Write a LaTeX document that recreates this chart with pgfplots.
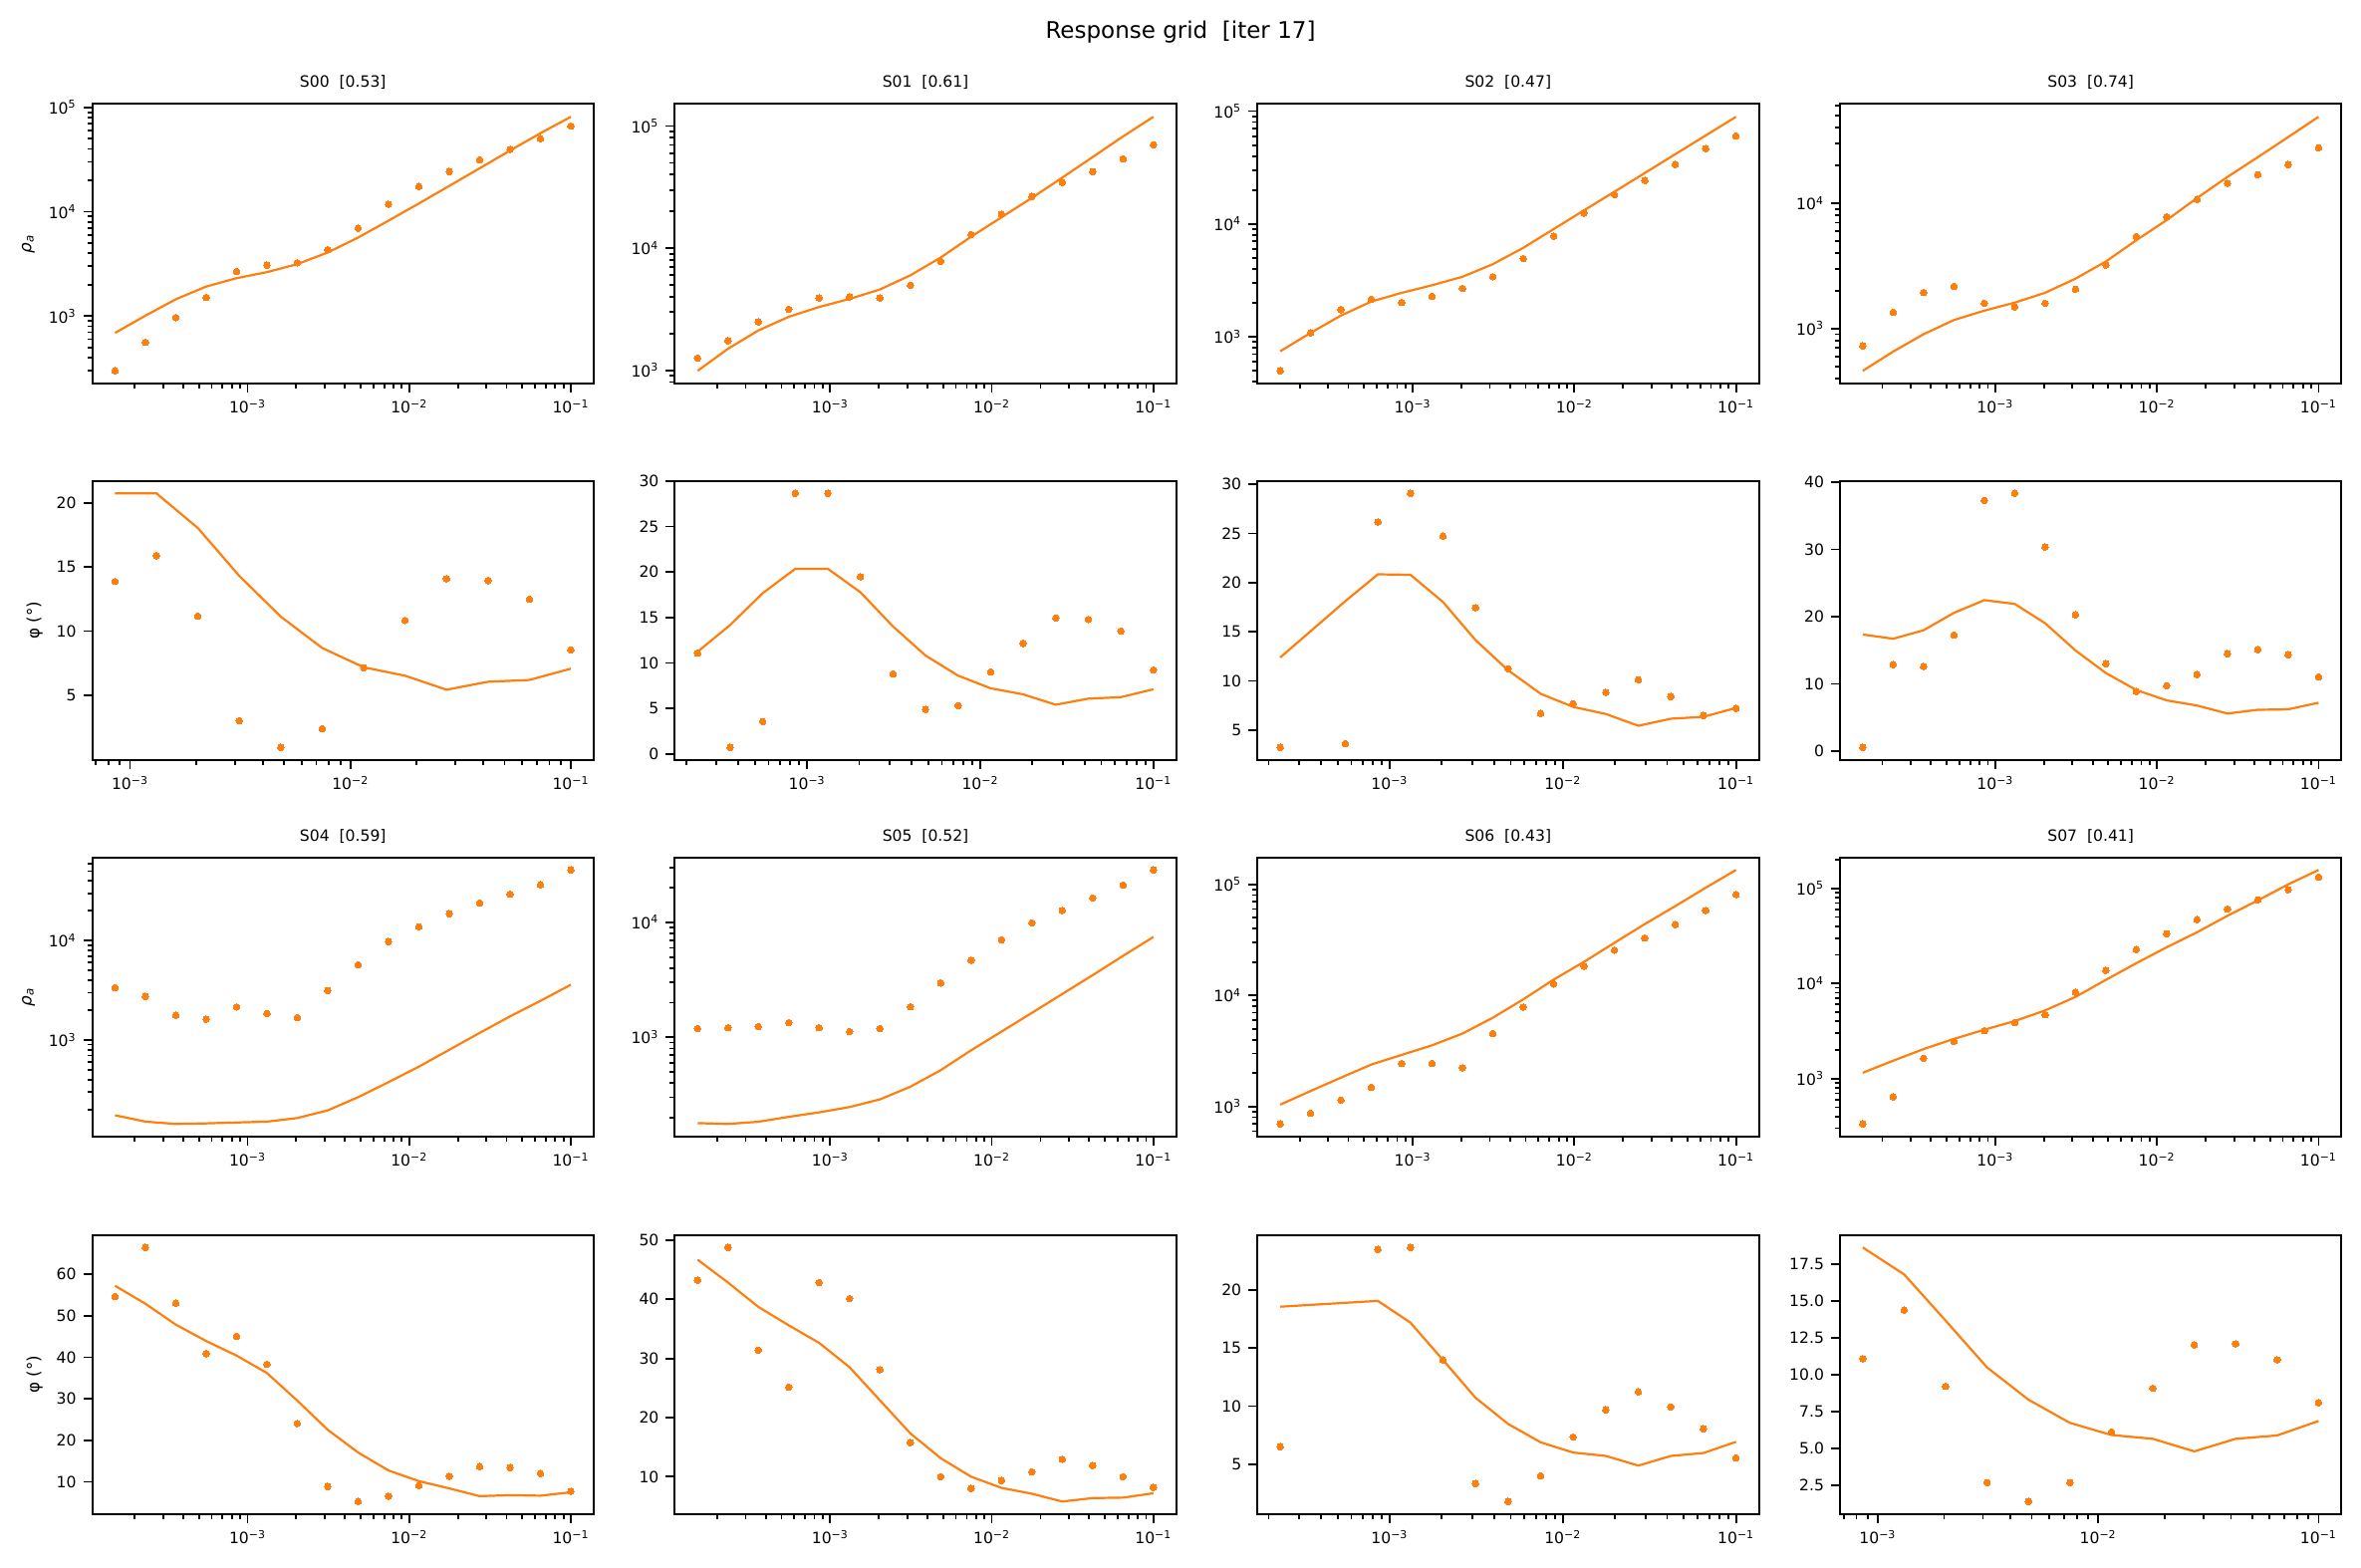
\documentclass[border=0pt]{standalone}
\usepackage{fontspec}
\setmainfont{DejaVu Sans}[ItalicFont={DejaVu Sans Oblique}]
\usepackage{pgfplots}
\pgfplotsset{compat=1.18}
\usepackage{pgfplotstable}
\definecolor{cone}{HTML}{FF7F0E}

% ---------- data: f = frequency, d = observed, m = model ----------
\pgfplotstableread{
f d m
1.514e-4 299 690
2.333e-4 561 1010
3.597e-4 970 1450
5.546e-4 1510 1920
8.551e-4 2670 2310
1.318e-3 3080 2640
2.032e-3 3250 3150
3.133e-3 4330 4070
4.831e-3 6970 5660
7.447e-3 11800 8220
1.148e-2 17500 12000
1.770e-2 24300 17700
2.729e-2 31500 26100
4.207e-2 39500 38600
6.486e-2 50100 56600
0.1 66300 81300
}\rhoA
\pgfplotstableread{
f d m
8.551e-4 13.87 20.73
1.318e-3 15.88 20.73
2.032e-3 11.17 18.03
3.133e-3 3.03 14.3
4.831e-3 0.95 11.13
7.447e-3 2.41 8.69
1.148e-2 7.15 7.19
1.770e-2 10.84 6.53
2.729e-2 14.09 5.44
4.207e-2 13.94 6.06
6.486e-2 12.48 6.2
0.1 8.54 7.08
}\phiA
\pgfplotstableread{
f d m
1.514e-4 1259 990
2.333e-4 1746 1500
3.597e-4 2490 2120
5.546e-4 3160 2740
8.551e-4 3910 3300
1.318e-3 3980 3840
2.032e-3 3910 4590
3.133e-3 4970 5990
4.831e-3 7800 8380
7.447e-3 12900 12400
1.148e-2 18900 17900
1.770e-2 26500 25800
2.729e-2 34500 37800
4.207e-2 42300 55700
6.486e-2 53800 82200
0.1 70200 119000
}\rhoB
\pgfplotstableread{
f d m
2.333e-4 11.08 11.24
3.597e-4 0.72 14.18
5.546e-4 3.56 17.68
8.551e-4 28.65 20.36
1.318e-3 28.65 20.36
2.032e-3 19.48 17.78
3.133e-3 8.81 14.02
4.831e-3 4.9 10.82
7.447e-3 5.31 8.61
1.148e-2 9.02 7.22
1.770e-2 12.16 6.55
2.729e-2 14.95 5.41
4.207e-2 14.79 6.08
6.486e-2 13.51 6.24
0.1 9.23 7.11
}\phiB
\pgfplotstableread{
f d m
1.514e-4 498 743
2.333e-4 1080 1080
3.597e-4 1740 1540
5.546e-4 2150 2050
8.551e-4 2010 2450
1.318e-3 2280 2860
2.032e-3 2680 3400
3.133e-3 3400 4400
4.831e-3 4930 6140
7.447e-3 7800 9000
1.148e-2 12500 13200
1.770e-2 18200 19300
2.729e-2 24300 28300
4.207e-2 33700 41500
6.486e-2 46600 60800
0.1 60300 89100
}\rhoC
\pgfplotstableread{
f d m
2.333e-4 3.23 12.38
5.546e-4 3.61 18.12
8.551e-4 26.17 20.85
1.318e-3 29.09 20.8
2.032e-3 24.73 18.03
3.133e-3 17.45 14.15
4.831e-3 11.23 11.08
7.447e-3 6.68 8.69
1.148e-2 7.68 7.35
1.770e-2 8.83 6.63
2.729e-2 10.12 5.43
4.207e-2 8.40 6.15
6.486e-2 6.48 6.34
0.1 7.2 7.25
}\phiC
\pgfplotstableread{
f d m
1.514e-4 727 460
2.333e-4 1350 655
3.597e-4 1940 901
5.546e-4 2170 1170
8.551e-4 1590 1390
1.318e-3 1490 1610
2.032e-3 1590 1930
3.133e-3 2060 2500
4.831e-3 3210 3430
7.447e-3 5420 5060
1.148e-2 7780 7330
1.770e-2 10700 11000
2.729e-2 14400 16200
4.207e-2 16900 23300
6.486e-2 20300 33700
0.1 27700 48900
}\rhoD
\pgfplotstableread{
f d m
1.514e-4 0.56 17.34
2.333e-4 12.87 16.71
3.597e-4 12.59 17.97
5.546e-4 17.27 20.56
8.551e-4 37.27 22.45
1.318e-3 38.32 21.89
2.032e-3 30.35 19.02
3.133e-3 20.28 14.97
4.831e-3 13.0 11.61
7.447e-3 8.88 9.09
1.148e-2 9.72 7.55
1.770e-2 11.40 6.78
2.729e-2 14.48 5.59
4.207e-2 15.1 6.15
6.486e-2 14.34 6.22
0.1 11.05 7.2
}\phiD
\pgfplotstableread{
f d m
1.514e-4 3370 175
2.333e-4 2750 151
3.597e-4 1770 143
5.546e-4 1620 145
8.551e-4 2150 148
1.318e-3 1850 151
2.032e-3 1680 164
3.133e-3 3150 196
4.831e-3 5700 266
7.447e-3 9780 377
1.148e-2 13800 540
1.770e-2 18700 798
2.729e-2 24000 1180
4.207e-2 29400 1730
6.486e-2 36400 2480
0.1 51500 3600
}\rhoE
\pgfplotstableread{
f d m
1.514e-4 54.63 57.2
2.333e-4 66.42 52.88
3.597e-4 53.0 47.86
5.546e-4 40.86 43.9
8.551e-4 45.06 40.4
1.318e-3 38.30 36.2
2.032e-3 24.06 29.55
3.133e-3 8.89 22.54
4.831e-3 5.27 17.06
7.447e-3 6.56 12.74
1.148e-2 9.12 10.18
1.770e-2 11.34 8.42
2.729e-2 13.67 6.56
4.207e-2 13.44 6.79
6.486e-2 12.04 6.67
0.1 7.72 7.49
}\phiE
\pgfplotstableread{
f d m
1.514e-4 1190 179
2.333e-4 1210 176
3.597e-4 1240 184
5.546e-4 1340 203
8.551e-4 1210 222
1.318e-3 1120 247
2.032e-3 1190 288
3.133e-3 1840 371
4.831e-3 2970 517
7.447e-3 4690 770
1.148e-2 7050 1120
1.770e-2 9900 1630
2.729e-2 12700 2380
4.207e-2 16300 3470
6.486e-2 21100 5110
0.1 28600 7470
}\rhoF
\pgfplotstableread{
f d m
1.514e-4 43.25 46.71
2.333e-4 48.77 42.84
3.597e-4 31.4 38.72
5.546e-4 25.14 35.6
8.551e-4 42.84 32.63
1.318e-3 40.12 28.52
2.032e-3 28.11 22.92
3.133e-3 15.76 17.33
4.831e-3 10.0 13.13
7.447e-3 8.02 10.0
1.148e-2 9.34 8.11
1.770e-2 10.82 7.12
2.729e-2 12.96 5.80
4.207e-2 11.89 6.38
6.486e-2 10.0 6.46
0.1 8.19 7.2
}\phiF
\pgfplotstableread{
f d m
1.514e-4 697 1040
2.333e-4 869 1380
3.597e-4 1140 1820
5.546e-4 1490 2390
8.551e-4 2440 2920
1.318e-3 2440 3560
2.032e-3 2230 4540
3.133e-3 4540 6310
4.831e-3 7870 9230
7.447e-3 12700 13900
1.148e-2 18400 20100
1.770e-2 25600 29800
2.729e-2 32900 44000
4.207e-2 43500 63700
6.486e-2 58200 93300
0.1 81100 135000
}\rhoG
\pgfplotstableread{
f d m
2.333e-4 6.5 18.54
8.551e-4 23.46 19.04
1.318e-3 23.63 17.17
2.032e-3 13.96 13.96
3.133e-3 3.33 10.71
4.831e-3 1.79 8.46
7.447e-3 4.0 6.88
1.148e-2 7.33 6.0
1.770e-2 9.67 5.71
2.729e-2 11.21 4.88
4.207e-2 9.92 5.71
6.486e-2 8.04 5.96
0.1 5.54 6.92
}\phiG
\pgfplotstableread{
f d m
1.514e-4 333 1150
2.333e-4 641 1540
3.597e-4 1630 2040
5.546e-4 2460 2610
8.551e-4 3180 3260
1.318e-3 3880 4020
2.032e-3 4680 5200
3.133e-3 8110 7210
4.831e-3 13700 10900
7.447e-3 22700 16300
1.148e-2 33300 24000
1.770e-2 46800 34500
2.729e-2 60500 51400
4.207e-2 75600 74600
6.486e-2 96600 110000
0.1 131000 156000
}\rhoH
\pgfplotstableread{
f d m
8.551e-4 11.1 18.64
1.318e-3 14.4 16.81
2.032e-3 9.23 13.68
3.133e-3 2.70 10.51
4.831e-3 1.42 8.32
7.447e-3 2.70 6.75
1.148e-2 6.13 5.93
1.770e-2 9.1 5.67
2.729e-2 12.04 4.82
4.207e-2 12.11 5.67
6.486e-2 11.03 5.9
0.1 8.12 6.88
}\phiH

\newcommand{\tickfont}{\fontsize{7.8}{9.2}\selectfont}
\newcommand{\labfont}{\fontsize{7.8}{9.4}\selectfont}
\newcommand{\ylabfont}{\fontsize{8.4}{10}\selectfont}

\pgfplotsset{
  mtpanel/.style={
    scale only axis, width=251.65pt, height=140.25pt,
    anchor=north west,
    enlargelimits=0.05,
    axis line style={line width=1pt},
    every tick/.style={black, line width=0.9pt},
    major tick length=4.5pt, minor tick length=2.5pt,
    tick align=outside, tick pos=left,
    xtick={1e-3,1e-2,1e-1},
    xticklabels={10\textsuperscript{−3},10\textsuperscript{−2},10\textsuperscript{−1}},
    minor xtick={2e-4,3e-4,4e-4,5e-4,6e-4,7e-4,8e-4,9e-4,2e-3,3e-3,4e-3,5e-3,6e-3,7e-3,8e-3,9e-3,2e-2,3e-2,4e-2,5e-2,6e-2,7e-2,8e-2,9e-2},
    tick label style={font=\tickfont},
    yticklabel style={/pgf/number format/assume math mode=true},
    every axis title/.style={font=\labfont, at={(0.5,1)}, anchor=base, yshift=8.25pt},
    ylabel style={font=\ylabfont},
  },
  mtrho/.style={
    minor ytick={200,300,400,500,600,700,800,900,2000,3000,4000,5000,6000,7000,8000,9000,20000,30000,40000,50000,60000,70000,80000,90000,200000}},
  mtrhothree/.style={mtrho, ytick={1e3,1e4,1e5}, yticklabels={10\textsuperscript{3},10\textsuperscript{4},10\textsuperscript{5}}},
  mtrhotwo/.style={mtrho, ytick={1e3,1e4}, yticklabels={10\textsuperscript{3},10\textsuperscript{4}}},
  mtmodel/.style={color=cone, line width=1.1pt, mark=none},
  mtobs/.style={only marks, mark=*, mark size=1.65pt, color=cone, mark options={draw=cone, fill=cone, line width=0pt}},
}

\newcommand{\rhopanel}[3]{%
  \begin{loglogaxis}[mtpanel, at={#1}, #3]
    \addplot[mtmodel] table[x=f,y=m] {#2};
    \addplot[mtobs] table[x=f,y=d] {#2};
  \end{loglogaxis}}
\newcommand{\phipanel}[3]{%
  \begin{semilogxaxis}[mtpanel, at={#1}, #3]
    \addplot[mtmodel] table[x=f,y=m] {#2};
    \addplot[mtobs] table[x=f,y=d] {#2};
  \end{semilogxaxis}}

\begin{document}
\begin{tikzpicture}
\path[use as bounding box] (0,0) rectangle (1185pt,-786.5pt);
\node[anchor=base, font=\fontsize{11.5}{14}\selectfont] at (592.5pt,-19.5pt) {Response grid\ \ [iter 17]};

\rhopanel{(46.3pt,-52.25pt)}{\rhoA}{mtrhothree, title={S00\ \ [0.53]}, ylabel={\textit{ρ}\textsubscript{\textit{a}}}}
\rhopanel{(338.7pt,-52.25pt)}{\rhoB}{mtrhothree, title={S01\ \ [0.61]}}
\rhopanel{(631.1pt,-52.25pt)}{\rhoC}{mtrhothree, title={S02\ \ [0.47]}}
\rhopanel{(923.5pt,-52.25pt)}{\rhoD}{mtrhotwo, title={S03\ \ [0.74]}}

\phipanel{(46.3pt,-241.25pt)}{\phiA}{ytick={5,10,15,20}, ylabel={φ (°)}}
\phipanel{(338.7pt,-241.25pt)}{\phiB}{ytick={0,5,10,15,20,25,30}}
\phipanel{(631.1pt,-241.25pt)}{\phiC}{ytick={5,10,15,20,25,30}}
\phipanel{(923.5pt,-241.25pt)}{\phiD}{ytick={0,10,20,30,40}}

\rhopanel{(46.3pt,-430.25pt)}{\rhoE}{mtrhotwo, title={S04\ \ [0.59]}, ylabel={\textit{ρ}\textsubscript{\textit{a}}}}
\rhopanel{(338.7pt,-430.25pt)}{\rhoF}{mtrhotwo, title={S05\ \ [0.52]}}
\rhopanel{(631.1pt,-430.25pt)}{\rhoG}{mtrhothree, title={S06\ \ [0.43]}}
\rhopanel{(923.5pt,-430.25pt)}{\rhoH}{mtrhothree, title={S07\ \ [0.41]}}

\phipanel{(46.3pt,-619.75pt)}{\phiE}{ytick={10,20,30,40,50,60}, ylabel={φ (°)}}
\phipanel{(338.7pt,-619.75pt)}{\phiF}{ytick={10,20,30,40,50}}
\phipanel{(631.1pt,-619.75pt)}{\phiG}{ytick={5,10,15,20}}
\phipanel{(923.5pt,-619.75pt)}{\phiH}{ytick={2.5,5,7.5,10,12.5,15,17.5}, yticklabel style={/pgf/number format/.cd, fixed, fixed zerofill, precision=1}}
\end{tikzpicture}
\end{document}
